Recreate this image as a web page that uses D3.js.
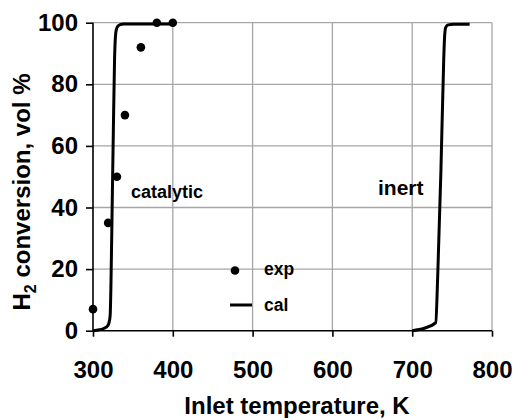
<!DOCTYPE html>
<html>
<head>
<meta charset="utf-8">
<script src="https://cdn.jsdelivr.net/npm/d3@7"></script>
<style>
  html, body { margin: 0; padding: 0; background: #fff; }
  svg { display: block; font-family: "Liberation Sans", Arial, sans-serif; }
</style>
</head>
<body>
<svg id="chart" width="513" height="418"></svg>
<script>
// Measured H2 conversion (exp)
const expTemp = [300, 319, 330, 340, 360, 380, 400];
const expConv = [7, 35, 50, 70, 92, 100, 100];

// Calculated conversion, catalytic combustion (cal)
const calCatTemp = [300, 308, 314, 318, 320, 321.5, 322.5, 324, 325.5, 327, 328, 329, 331, 334, 338, 345, 400];
const calCatConv = [0, 0.3, 0.8, 1.5, 2.5, 5, 15, 40, 65, 88, 95, 97.5, 98.8, 99.4, 99.6, 99.6, 99.6];

// Calculated conversion, inert bed (cal)
const calInertTemp = [700, 715, 729.5, 732, 736, 739.5, 740.5, 742, 745, 752, 772];
const calInertConv = [0, 0.8, 2.6, 18, 52, 88, 95, 98.5, 99.3, 99.5, 99.5];

const xTicks = [300, 400, 500, 600, 700, 800];
const yTicks = [0, 20, 40, 60, 80, 100];

const svg = d3.select("#chart");
const plotL = 93, plotR = 492, plotT = 22.7, plotB = 330.7;

const x = d3.scaleLinear().domain([300, 800]).range([plotL, plotR]);
const y = d3.scaleLinear().domain([0, 100]).range([plotB, plotT]);

// grid
const grid = svg.append("g").attr("stroke", "#a6a6a6").attr("stroke-width", 1.3);
grid.selectAll("line.v").data(xTicks.slice(1)).join("line").attr("class", "v")
  .attr("x1", d => x(d)).attr("x2", d => x(d)).attr("y1", plotT).attr("y2", plotB);
grid.selectAll("line.h").data(yTicks.slice(1)).join("line").attr("class", "h")
  .attr("x1", plotL).attr("x2", plotR).attr("y1", d => y(d)).attr("y2", d => y(d));

// axes
const xAxis = d3.axisBottom(x).tickValues(xTicks).tickSize(6).tickPadding(24);
const yAxis = d3.axisLeft(y).tickValues(yTicks).tickSize(7).tickPadding(8);

const gx = svg.append("g").attr("transform", `translate(0,${plotB})`).call(xAxis);
const gy = svg.append("g").attr("transform", `translate(${plotL},0)`).call(yAxis);
[gx, gy].forEach(g => {
  g.select(".domain").attr("stroke", "#000").attr("stroke-width", 1.6);
  g.selectAll(".tick line").attr("stroke", "#000").attr("stroke-width", 1.6);
  g.selectAll(".tick text").attr("fill", "#000")
    .style("font-size", "24px").style("font-weight", "bold")
    .style("font-family", "'Liberation Sans', Arial, sans-serif");
});
gx.select(".domain").attr("d", `M${plotL},0H${plotR}`);
gy.select(".domain").attr("d", `M0,${plotB}V${plotT}`);

// curves
const line = d3.line().x(d => x(d[0])).y(d => y(d[1])).curve(d3.curveMonotoneX);
const catData = calCatTemp.map((t, i) => [t, calCatConv[i]]);
const inertData = calInertTemp.map((t, i) => [t, calInertConv[i]]);
svg.append("path").datum(catData).attr("d", line)
  .attr("fill", "none").attr("stroke", "#000").attr("stroke-width", 3);
svg.append("path").datum(inertData).attr("d", line)
  .attr("fill", "none").attr("stroke", "#000").attr("stroke-width", 3);

// measured points
svg.append("g").selectAll("circle").data(expTemp).join("circle")
  .attr("cx", d => x(d)).attr("cy", (d, i) => y(expConv[i])).attr("r", 4.3)
  .attr("fill", "#000");

// annotations
svg.append("text").attr("x", 131).attr("y", 198).text("catalytic")
  .style("font-size", "18px").style("font-weight", "bold");
svg.append("text").attr("x", 378).attr("y", 195).text("inert")
  .style("font-size", "21px").style("font-weight", "bold");

// legend
svg.append("circle").attr("cx", 235).attr("cy", 270.5).attr("r", 4.3).attr("fill", "#000");
svg.append("text").attr("x", 264).attr("y", 275).text("exp")
  .style("font-size", "17.5px").style("font-weight", "bold");
svg.append("line").attr("x1", 230).attr("x2", 252).attr("y1", 305).attr("y2", 305)
  .attr("stroke", "#000").attr("stroke-width", 3);
svg.append("text").attr("x", 264).attr("y", 311).text("cal")
  .style("font-size", "17.5px").style("font-weight", "bold");

// axis titles
svg.append("text").attr("x", 297).attr("y", 414).attr("text-anchor", "middle")
  .style("font-size", "24px").style("font-weight", "bold")
  .text("Inlet temperature, K");

const yt = svg.append("text").attr("transform", "translate(30,192) rotate(-90)")
  .attr("text-anchor", "middle")
  .style("font-size", "24px").style("font-weight", "bold");
yt.append("tspan").text("H");
yt.append("tspan").attr("dy", 6).style("font-size", "16px").text("2");
yt.append("tspan").attr("dy", -6).text(" conversion, vol %");
</script>
</body>
</html>
